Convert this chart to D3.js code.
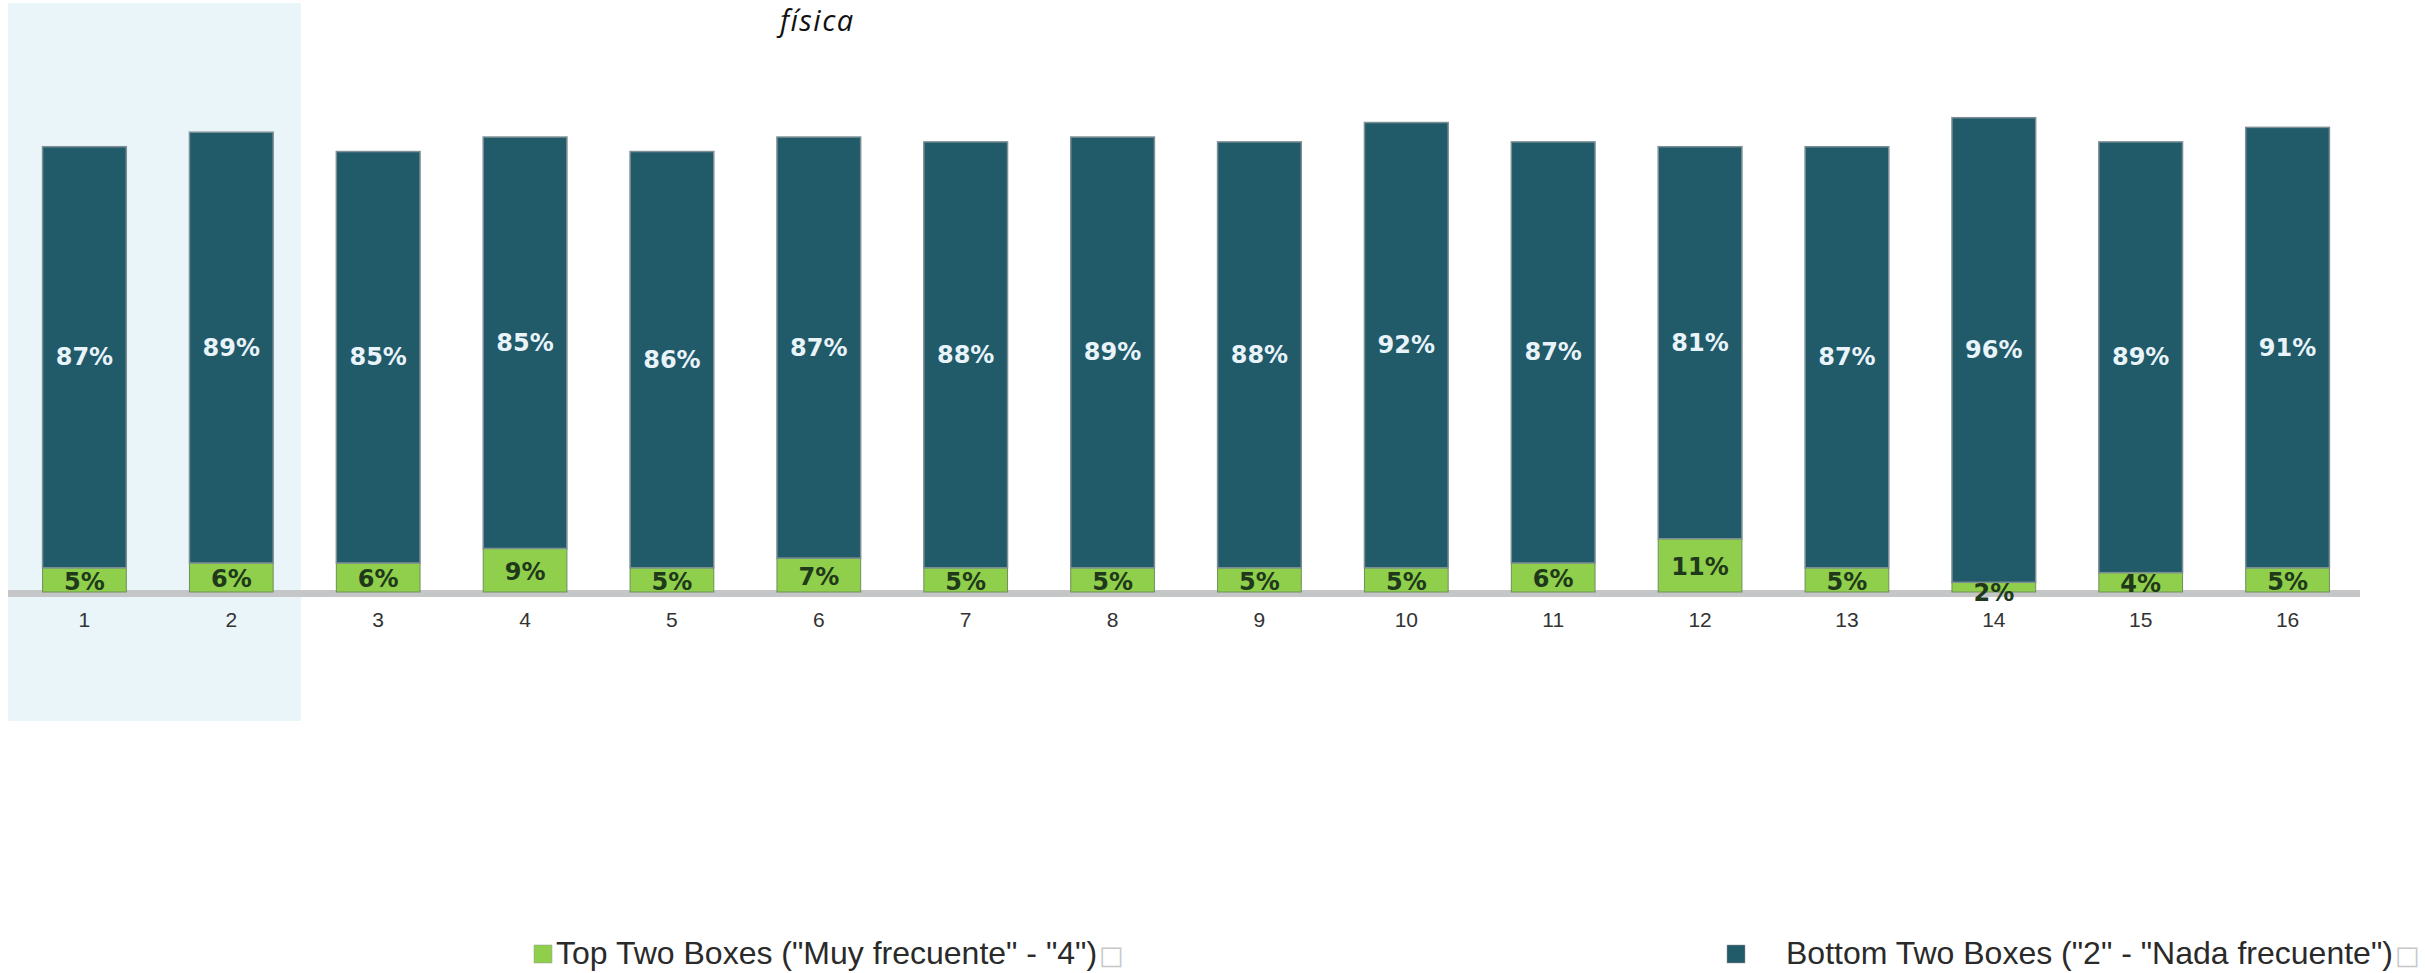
<!DOCTYPE html>
<html>
<head>
<meta charset="utf-8">
<script src="https://cdn.jsdelivr.net/npm/d3@7"></script>
<style>
  html, body { margin: 0; padding: 0; background: #ffffff; }
  svg { display: block; }
</style>
</head>
<body>
<svg id="chart" width="2425" height="973"></svg>
<script>
// ---- data ----
const categories = ["1","2","3","4","5","6","7","8","9","10","11","12","13","14","15","16"];
const topTwo    = [5, 6, 6, 9, 5, 7, 5, 5, 5, 5, 6, 11, 5, 2, 4, 5];
const bottomTwo = [87, 89, 85, 85, 86, 87, 88, 89, 88, 92, 87, 81, 87, 96, 89, 91];
const seriesNames = ['Top Two Boxes ("Muy frecuente" - "4")', 'Bottom Two Boxes ("2" - "Nada frecuente")'];
const highlighted = ["1", "2"];
const titleTail = "física";

// ---- layout ----
const W = 2425, H = 973;
const baseY = 592, topY = 108;
const colGreen = "#8fcf4c", colDark = "#215a69";

const svg = d3.select("#chart");

const x = d3.scaleBand().domain(categories).range([11, 2361]).paddingInner(0.43).paddingOuter(0.215);
const y = d3.scaleLinear().domain([0, 100]).range([baseY, topY]);
const step = x.step();

// highlight band
const hx0 = x(highlighted[0]) - step * 0.215 - 3;
const hx1 = x(highlighted[highlighted.length - 1]) + x.bandwidth() + step * 0.215 - 4;
svg.append("rect").attr("x", hx0).attr("y", 3).attr("width", hx1 - hx0).attr("height", 718)
  .attr("fill", "#e9f5f8");

// title tail
svg.append("text").attr("x", 780).attr("y", 31)
  .attr("font-family", "'Open Sans', sans-serif").attr("font-style", "italic").attr("font-weight", 400)
  .attr("font-size", 29).attr("letter-spacing", 1.5).attr("fill", "#111").text(titleTail);

// axis baseline
svg.append("rect").attr("x", 8).attr("y", 590).attr("width", 2352).attr("height", 7).attr("fill", "#c4c6c8");

// data rows
const rows = categories.map((c, i) => ({ cat: c, top: topTwo[i], bottom: bottomTwo[i] }));

const g = svg.append("g");
// green (top two boxes) segment from 0
g.selectAll("rect.green").data(rows).join("rect").attr("class", "green")
  .attr("x", d => x(d.cat)).attr("width", x.bandwidth())
  .attr("y", d => y(d.top)).attr("height", d => y(0) - y(d.top))
  .attr("fill", colGreen).attr("stroke", "#6f8f5a").attr("stroke-width", 1);
// dark (bottom two boxes) segment stacked
g.selectAll("rect.dark").data(rows).join("rect").attr("class", "dark")
  .attr("x", d => x(d.cat)).attr("width", x.bandwidth())
  .attr("y", d => y(d.top + d.bottom)).attr("height", d => y(d.top) - y(d.top + d.bottom))
  .attr("fill", colDark).attr("stroke", "#7d8f95").attr("stroke-width", 1.5);

// labels
g.selectAll("text.dlab").data(rows).join("text").attr("class", "dlab")
  .attr("x", d => x(d.cat) + x.bandwidth() / 2)
  .attr("y", d => (y(d.top) + y(d.top + d.bottom)) / 2)
  .attr("text-anchor", "middle").attr("dominant-baseline", "central")
  .attr("font-family", "'DejaVu Sans', sans-serif").attr("font-weight", "bold").attr("font-size", 24)
  .attr("fill", "#e8f3fa").text(d => d.bottom + "%");

g.selectAll("text.glab").data(rows).join("text").attr("class", "glab")
  .attr("x", d => x(d.cat) + x.bandwidth() / 2)
  .attr("y", d => {
    const h = y(0) - y(d.top);
    return h < 18 ? baseY + 1 : (y(0) + y(d.top)) / 2 + 2;
  })
  .attr("text-anchor", "middle").attr("dominant-baseline", "central")
  .attr("font-family", "'DejaVu Sans', sans-serif").attr("font-weight", "bold").attr("font-size", 24)
  .attr("fill", "#20391a").text(d => d.top + "%");

// x axis tick labels
const xAxis = d3.axisBottom(x).tickSize(0).tickPadding(0);
const ax = svg.append("g").attr("transform", `translate(0, 612)`).call(xAxis);
ax.select(".domain").remove();
ax.selectAll("text").attr("font-family", "'Liberation Sans', Arial, sans-serif")
  .attr("font-size", 21).attr("fill", "#333").attr("dy", "0.7em");

// legend
const legend = [
  { name: seriesNames[0], color: colGreen, sx: 534, tx: 556 },
  { name: seriesNames[1], color: colDark, sx: 1727, tx: 1786 }
];
const lg = svg.append("g");
legend.forEach(l => {
  lg.append("rect").attr("x", l.sx).attr("y", 945).attr("width", 18).attr("height", 18)
    .attr("fill", l.color).attr("stroke", "#999").attr("stroke-width", 0.5);
  const t = lg.append("text").attr("x", l.tx).attr("y", 964)
    .attr("font-family", "'Liberation Sans', Arial, sans-serif").attr("font-size", 32).attr("fill", "#2a2a2a");
  t.append("tspan").text(l.name);
  t.append("tspan").attr("fill", "#c8c8c8").attr("font-family", "'DejaVu Sans', sans-serif")
    .attr("font-size", 26).attr("dx", 2).text("□");
});
</script>
</body>
</html>
